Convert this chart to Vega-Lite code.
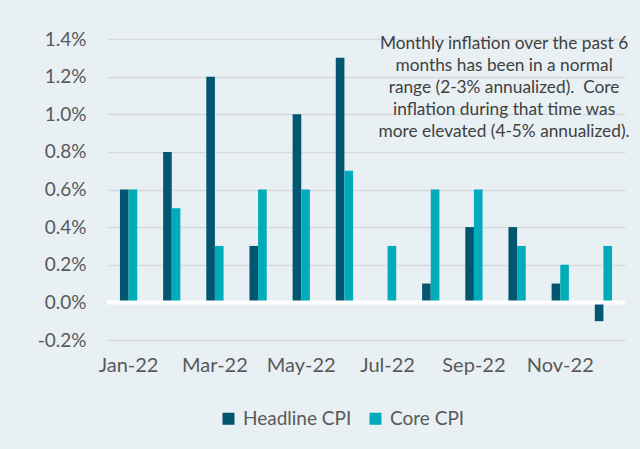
{
  "$schema": "https://vega.github.io/schema/vega-lite/v6.json",
  "autosize": {"type": "none"},
  "width": 518,
  "height": 301,
  "padding": {"left": 107, "top": 39, "right": 15, "bottom": 109},
  "background": "#e8f0f4",
  "config": {
    "view": {"stroke": null},
    "font": "Lato",
    "axis": {"labelFont": "Lato", "labelColor": "#595959", "labelFontSize": 18, "domain": false, "ticks": false, "title": null, "labelOverlap": false},
    "legend": {"labelFont": "Lato", "labelColor": "#595959", "labelFontSize": 19, "padding": 0}
  },
  "datasets": {
    "cpi": [
      {"month": "Jan-22", "series": "Headline CPI", "value": 0.006},
      {"month": "Feb-22", "series": "Headline CPI", "value": 0.008},
      {"month": "Mar-22", "series": "Headline CPI", "value": 0.012},
      {"month": "Apr-22", "series": "Headline CPI", "value": 0.003},
      {"month": "May-22", "series": "Headline CPI", "value": 0.010},
      {"month": "Jun-22", "series": "Headline CPI", "value": 0.013},
      {"month": "Jul-22", "series": "Headline CPI", "value": 0.000},
      {"month": "Aug-22", "series": "Headline CPI", "value": 0.001},
      {"month": "Sep-22", "series": "Headline CPI", "value": 0.004},
      {"month": "Oct-22", "series": "Headline CPI", "value": 0.004},
      {"month": "Nov-22", "series": "Headline CPI", "value": 0.001},
      {"month": "Dec-22", "series": "Headline CPI", "value": -0.001},
      {"month": "Jan-22", "series": "Core CPI", "value": 0.006},
      {"month": "Feb-22", "series": "Core CPI", "value": 0.005},
      {"month": "Mar-22", "series": "Core CPI", "value": 0.003},
      {"month": "Apr-22", "series": "Core CPI", "value": 0.006},
      {"month": "May-22", "series": "Core CPI", "value": 0.006},
      {"month": "Jun-22", "series": "Core CPI", "value": 0.007},
      {"month": "Jul-22", "series": "Core CPI", "value": 0.003},
      {"month": "Aug-22", "series": "Core CPI", "value": 0.006},
      {"month": "Sep-22", "series": "Core CPI", "value": 0.006},
      {"month": "Oct-22", "series": "Core CPI", "value": 0.003},
      {"month": "Nov-22", "series": "Core CPI", "value": 0.002},
      {"month": "Dec-22", "series": "Core CPI", "value": 0.003}
    ],
    "zero": [{"level": 0}],
    "note": [
      {"month": "Oct-22", "y": 0.01372, "text": ["Monthly inflation over the past 6", "months has been in a normal", "range (2-3% annualized).\u00a0 Core", "inflation during that time was", "more elevated (4-5% annualized)."]}
    ]
  },
  "layer": [
    {
      "data": {"name": "cpi"},
      "mark": {"type": "bar"},
      "encoding": {
        "x": {
          "field": "month", "type": "ordinal", "sort": null,
          "scale": {"paddingInner": 0.6, "paddingOuter": 0.3},
          "axis": {"values": ["Jan-22", "Mar-22", "May-22", "Jul-22", "Sep-22", "Nov-22"], "labelAngle": 0, "labelPadding": 15, "labelFontSize": 20, "grid": false}
        },
        "xOffset": {"field": "series", "type": "nominal", "sort": ["Headline CPI", "Core CPI"], "scale": {"paddingInner": 0, "paddingOuter": 0}},
        "y": {
          "field": "value", "type": "quantitative",
          "scale": {"domain": [-0.002, 0.014], "nice": false, "zero": false},
          "axis": {"values": [-0.002, 0, 0.002, 0.004, 0.006, 0.008, 0.010, 0.012, 0.014], "tickCount": 9, "labelOverlap": false, "format": ".1%", "labelExpr": "replace(datum.label, '\u2212', '-')", "labelFontSize": 19, "labelPadding": 21, "grid": true, "gridColor": "#d6d9db", "gridWidth": 1.5}
        },
        "color": {
          "field": "series", "type": "nominal",
          "scale": {"domain": ["Headline CPI", "Core CPI"], "range": ["#02566f", "#00acba"]},
          "legend": {"title": null, "orient": "none", "direction": "horizontal", "legendX": 112, "legendY": 370, "symbolType": "square", "symbolSize": 144, "symbolStrokeWidth": 0, "symbolOpacity": 1, "labelOffset": 5, "columnPadding": 14}
        }
      }
    },
    {
      "data": {"name": "zero"},
      "mark": {"type": "rule", "color": "white", "strokeWidth": 4},
      "encoding": {"y": {"field": "level", "type": "quantitative",
          "axis": {"values": [-0.002, 0, 0.002, 0.004, 0.006, 0.008, 0.010, 0.012, 0.014], "tickCount": 9, "labelOverlap": false, "format": ".1%", "labelExpr": "replace(datum.label, '\u2212', '-')", "labelFontSize": 19, "labelPadding": 21, "grid": true, "gridColor": "#d6d9db", "gridWidth": 1.5}}}
    },
    {
      "data": {"name": "note"},
      "mark": {"type": "text", "align": "center", "baseline": "middle", "fontSize": 17.3, "lineHeight": 22, "color": "#404040", "dx": -13},
      "encoding": {
        "x": {"field": "month", "type": "ordinal", "sort": null},
        "y": {"field": "y", "type": "quantitative",
          "axis": {"values": [-0.002, 0, 0.002, 0.004, 0.006, 0.008, 0.010, 0.012, 0.014], "tickCount": 9, "labelOverlap": false, "format": ".1%", "labelExpr": "replace(datum.label, '\u2212', '-')", "labelFontSize": 19, "labelPadding": 21, "grid": true, "gridColor": "#d6d9db", "gridWidth": 1.5}},
        "text": {"field": "text"}
      }
    }
  ]
}
